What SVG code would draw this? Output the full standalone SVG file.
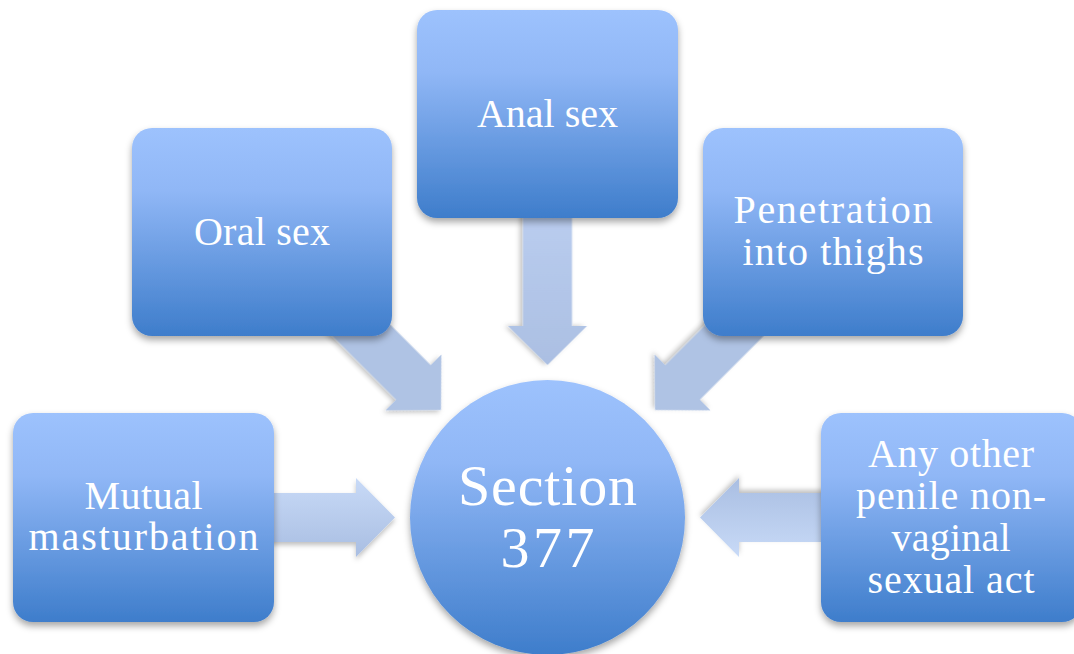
<svg xmlns="http://www.w3.org/2000/svg" xmlns:xlink="http://www.w3.org/1999/xlink" width="1074" height="654" viewBox="0 0 1074 654">
  <defs>
    <linearGradient id="gBox" x1="0" y1="0" x2="0" y2="1">
      <stop offset="0" stop-color="#9DC2FD"/>
      <stop offset="0.3" stop-color="#90B7F6"/>
      <stop offset="1" stop-color="#3E7DCB"/>
    </linearGradient>
    <linearGradient id="gArr" x1="0" y1="0" x2="0" y2="1">
      <stop offset="0" stop-color="#C8DAF7"/>
      <stop offset="1" stop-color="#A9BEE2"/>
    </linearGradient>
    <linearGradient id="gArrV" x1="0" y1="0" x2="1" y2="0">
      <stop offset="0" stop-color="#BACDEF"/>
      <stop offset="1" stop-color="#ABBFE2"/>
    </linearGradient>
    <filter id="sh" x="-20%" y="-20%" width="140%" height="140%">
      <feDropShadow dx="0" dy="4" stdDeviation="3.5" flood-color="#000" flood-opacity="0.35"/>
    </filter>
    <filter id="shA" x="-20%" y="-20%" width="140%" height="140%">
      <feDropShadow dx="0" dy="3" stdDeviation="2.5" flood-color="#000" flood-opacity="0.25"/>
    </filter>
    <path id="arr" d="M -155 -24.5 L -39 -24.5 L -39 -39.5 L 0 0 L -39 39.5 L -39 24.5 L -155 24.5 Z"/>
    <style>
      .box { fill: url(#gBox); filter: url(#sh); }
      .arrow { fill: url(#gArr); filter: url(#shA); }
      .arrowV { fill: url(#gArrV); filter: url(#shA); }
      .arrowD { fill: #AFC3E4; filter: url(#shA); }
      .lbl { font-family: "Liberation Serif", "Times New Roman", serif; font-size: 40px; fill: #FFFFFF; text-anchor: middle; }
      .big { font-size: 58px; }
    </style>
  </defs>

  <g id="connectors">
    <use xlink:href="#arr" class="arrowV" transform="translate(547.5,365) rotate(90)"/>
    <use xlink:href="#arr" class="arrowD" transform="translate(441,410) rotate(45)"/>
    <use xlink:href="#arr" class="arrowD" transform="translate(655,410) rotate(135)"/>
    <use xlink:href="#arr" class="arrow" transform="translate(395,517.5)"/>
    <use xlink:href="#arr" class="arrow" transform="translate(700,517.5) rotate(180)"/>
  </g>

  <g id="node-oral">
    <rect class="box" x="132" y="128" width="260" height="208" rx="20"/>
    <text class="lbl" x="262" y="245" textLength="136" lengthAdjust="spacing">Oral sex</text>
  </g>
  <g id="node-anal">
    <rect class="box" x="417" y="10" width="261" height="208" rx="20"/>
    <text class="lbl" x="547.5" y="127" textLength="141" lengthAdjust="spacing">Anal sex</text>
  </g>
  <g id="node-thighs">
    <rect class="box" x="703" y="128" width="260" height="208" rx="20"/>
    <text class="lbl" x="833" y="223" textLength="199" lengthAdjust="spacing">Penetration</text>
    <text class="lbl" x="833" y="265" textLength="181" lengthAdjust="spacing">into thighs</text>
  </g>
  <g id="node-mutual">
    <rect class="box" x="13" y="413" width="261" height="209" rx="20"/>
    <text class="lbl" x="143.5" y="509" textLength="118" lengthAdjust="spacing">Mutual</text>
    <text class="lbl" x="143.5" y="550" textLength="230" lengthAdjust="spacing">masturbation</text>
  </g>
  <g id="node-other">
    <rect class="box" x="821" y="413" width="261" height="209" rx="20"/>
    <text class="lbl" x="951" y="467" textLength="166" lengthAdjust="spacing">Any other</text>
    <text class="lbl" x="951" y="509" textLength="190" lengthAdjust="spacing">penile non-</text>
    <text class="lbl" x="951" y="551" textLength="119" lengthAdjust="spacing">vaginal</text>
    <text class="lbl" x="951" y="593" textLength="167" lengthAdjust="spacing">sexual act</text>
  </g>
  <g id="node-section">
    <circle class="box" cx="547.5" cy="517.5" r="137.5"/>
    <text class="lbl big" x="547.5" y="505" textLength="179" lengthAdjust="spacing">Section</text>
    <text class="lbl big" x="547.5" y="567" textLength="94" lengthAdjust="spacing">377</text>
  </g>
</svg>
